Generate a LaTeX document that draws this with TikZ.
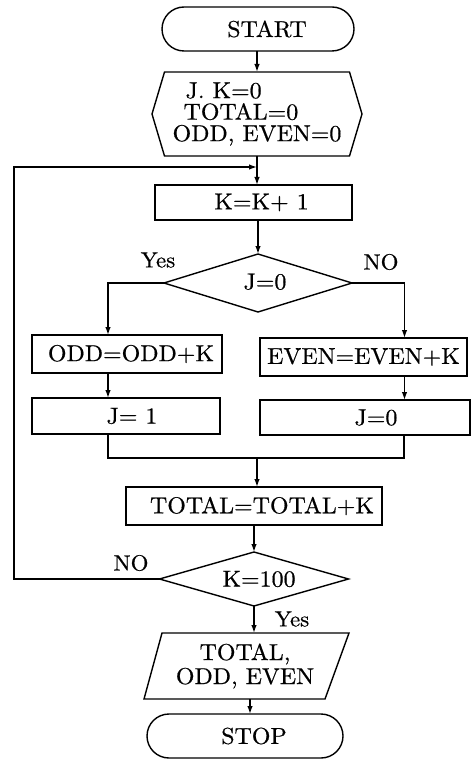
\documentclass[tikz,border=0pt]{standalone}
\usepackage{fontspec}
\setmainfont{lmroman10-regular.otf}[FakeStretch=1.04, FakeBold=0.6]
\usetikzlibrary{shapes.geometric,arrows.meta,calc}
\begin{document}
\begin{tikzpicture}[x=1pt,y=-1pt,
  font=\fontsize{23}{24}\selectfont,
  line width=1.4pt,
  every node/.style={inner sep=0pt, outer sep=0pt},
  box/.style={draw, rectangle},
  term/.style={draw, rectangle, rounded corners=22pt, minimum width=192pt, minimum height=44pt},
  dec/.style={draw, diamond, aspect=3.5},
  lbl/.style={font=\fontsize{22}{24}\selectfont},
  arr/.style={-{Latex[length=8pt,width=5.5pt]}}]
\useasboundingbox (0,0) rectangle (472,759);

% nodes
\node[term] (start) at (258,29) {\hspace*{18pt}START};
\node[minimum width=185pt, minimum height=84pt, align=left, font=\fontsize{23}{21.5}\selectfont] (prep) at (257,114)
  {\hspace*{13pt}J. K=0\\\hspace*{11pt}TOTAL=0\\ODD, EVEN=0};
\draw (prep.north west) -- (prep.north east) -- ($(prep.east)+(12.5,0)$) -- (prep.south east)
  -- (prep.south west) -- ($(prep.west)+(-12.5,0)$) -- cycle;
\node[box, minimum width=197pt, minimum height=35pt] (k1) at (253.5,202.5) {\hspace*{16pt}K=K+ 1};
\node[dec, minimum width=188pt, minimum height=58pt] (d1) at (258,283) {\raisebox{3pt}{\hspace*{14pt}J=0}};
\node[box, minimum width=190pt, minimum height=38pt] (odd) at (127,354) {\hspace*{8pt}ODD=ODD+K};
\node[box, minimum width=207pt, minimum height=38pt] (even) at (363.5,357) {EVEN=EVEN+K};
\node[box, minimum width=188pt, minimum height=36pt] (j1box) at (126,416) {\hspace*{12pt}J= 1};
\node[box, minimum width=210pt, minimum height=35pt] (j0box) at (365,417.5) {\hspace*{22pt}J=0};
\node[box, minimum width=256pt, minimum height=38pt] (total) at (254,506) {\hspace*{16pt}TOTAL=TOTAL+K};
\node[dec, minimum width=189pt, minimum height=54pt] (d2) at (254,579) {\hspace*{10pt}K=100};
\node[minimum width=166pt, minimum height=66pt, align=center] (out) at (245,666) {TOTAL,\\ODD, EVEN};
\draw (out.north west) -- ($(out.north east)+(21,0)$) -- ($(out.south east)+(-3,0)$)
  -- ($(out.south west)+(-18,0)$) -- cycle;
\node[term, minimum width=196pt] (stop) at (245,736) {\hspace*{18pt}STOP};

% labels
\node[lbl] (yes1) at (158,260) {Yes};
\node[lbl] (no1) at (381,262) {NO};
\node[lbl] (no2) at (131,563) {NO};
\node[lbl] (yes2) at (292,619) {Yes};

% connectors
\coordinate (loop) at (257,167);
\coordinate (lc) at (14,167);
\coordinate (merge) at (257,458);

\draw[arr] (start.south -| prep.north) -- (prep.north);
\draw[arr] (prep.south) -- (prep.south |- k1.north);
\draw[arr] (k1.south -| d1.north) -- (d1.north);
\draw[arr] (d1.west) -| ([xshift=-19pt]odd.north);
\draw[arr] (d1.east) -| ([xshift=41pt]even.north);
\draw[arr] ([xshift=-19pt]odd.south) -- ([xshift=-19pt]odd.south |- j1box.north);
\draw[arr] ([xshift=41pt]even.south) -- ([xshift=41pt]even.south |- j0box.north);
\draw ([xshift=-18pt]j1box.south) |- (merge) -| ([xshift=39pt]j0box.south);
\draw[arr] (merge) -- (merge |- total.north);
\draw[arr] (total.south -| d2.north) -- (d2.north);
\draw[arr] (d2.west) -| (lc) -- (loop);
\draw[arr] (d2.south) -- (d2.south |- out.north);
\draw[arr] ([xshift=5pt]out.south) -- ([xshift=5pt]out.south |- stop.north);
\end{tikzpicture}
\end{document}
